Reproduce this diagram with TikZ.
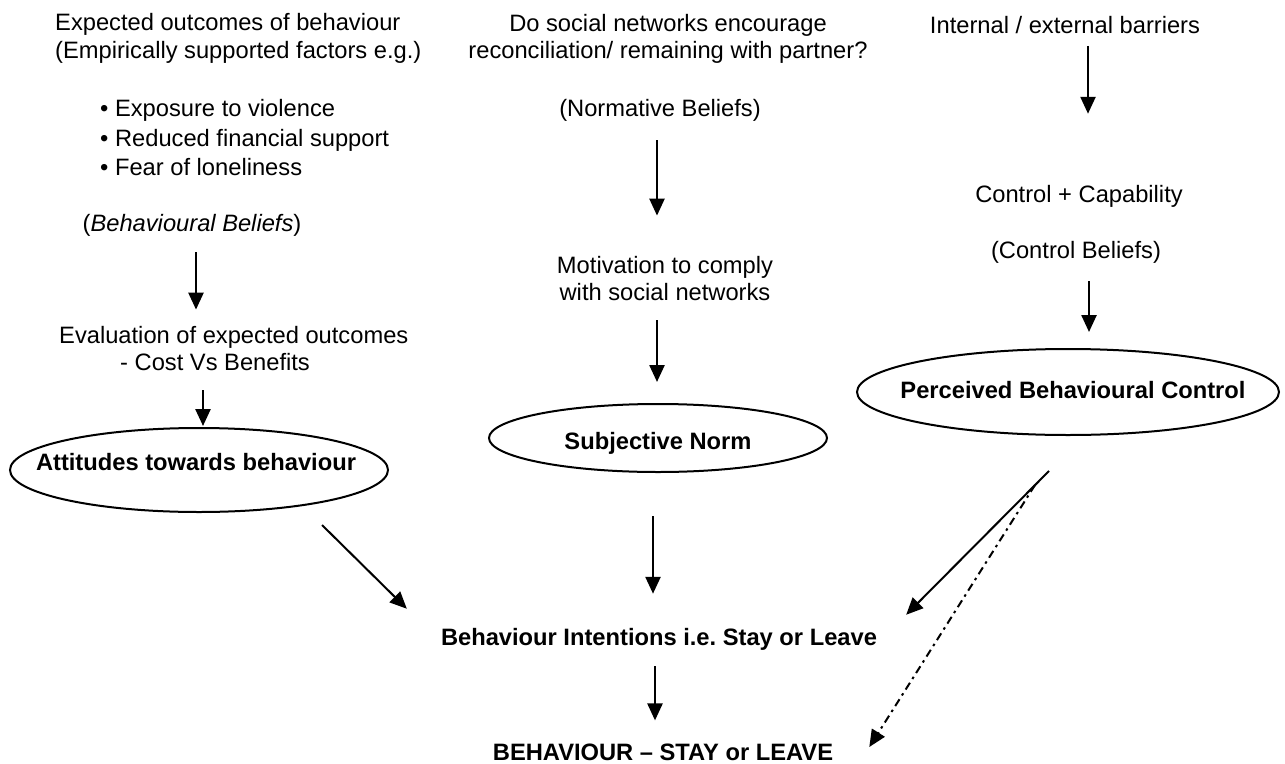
\documentclass[tikz,border=0pt]{standalone}
\usepackage{fontspec}
\setmainfont{Liberation Sans}
\usetikzlibrary{shapes.geometric,arrows.meta}
\frenchspacing

\begin{document}
\begin{tikzpicture}[
		x=1pt, y=-1pt,
		textos/.style={
			inner sep=0pt,
			align=center,
			font=\fontsize{23.7}{28}\selectfont
		},
		negrito/.style={
			textos,
			font=\fontsize{23.7}{28}\selectfont\bfseries
		},
		elipses/.style={
			draw,
			ellipse,
			inner sep=0pt,
			line width=2pt
		},
		setas/.style={
			-{Triangle[length=17pt,width=15pt]},
			line width=2.5pt
		},
		setatraco/.style={
			setas,
			line width=2pt,
			dash pattern=on 8pt off 4.5pt on 2.5pt off 4.5pt
		}
		]
		\useasboundingbox (0,0) rectangle (1285,763);
		
		% coluna da esquerda
		\node[textos, anchor=west, align=left] (out) at (55,38) {Expected outcomes of behaviour\\ (Empirically supported factors e.g.)};
		\node[textos, anchor=west, align=left, font=\fontsize{23.7}{29.5}\selectfont] (fat) at (100,138) {\textbullet\ Exposure to violence\\ \textbullet\ Reduced financial support\\ \textbullet\ Fear of loneliness};
		\node[textos] (bb) at (192,225) {(\textit{Behavioural Beliefs})};
		\node[textos, anchor=west, align=left, font=\fontsize{23.7}{27}\selectfont] (eval) at (59,349) {Evaluation of expected outcomes\\ \hspace*{61pt}- Cost Vs Benefits};
		\node[elipses, minimum width=378pt, minimum height=84pt] (att) at (199,470) {};
		\node[negrito] (attt) at (196,462) {Attitudes towards behaviour};
		
		% coluna do meio
		\node[textos, font=\fontsize{23.7}{27}\selectfont] (soc) at (668,39) {Do social networks encourage\\ reconciliation/ remaining with partner?};
		\node[textos] (nb) at (660,110) {(Normative Beliefs)};
		\node[textos, font=\fontsize{23.7}{27}\selectfont] (mot) at (665,279) {Motivation to comply\\ with social networks};
		\node[elipses, minimum width=338pt, minimum height=68pt] (sn) at (658,438) {};
		\node[negrito] (snt) at (658,443) {Subjective Norm};
		\node[negrito] (bi) at (659,639) {Behaviour Intentions i.e. Stay or Leave};
		\node[negrito] (beh) at (663,752) {BEHAVIOUR -- STAY or LEAVE};
		
		% coluna da direita
		\node[textos] (ieb) at (1065,25) {Internal / external barriers};
		\node[textos] (cc) at (1079,196) {Control + Capability};
		\node[textos] (cb) at (1076,252) {(Control Beliefs)};
		\node[elipses, minimum width=422pt, minimum height=86pt] (pbc) at (1068,392) {};
		\node[negrito] (pbct) at (1073,390) {Perceived Behavioural Control};
		
		%Setas
		\draw[setas, shorten <=16pt, shorten >=17pt] ([xshift=4pt]bb.south) -- ([xshift=4pt]bb.south |- eval.north);
		\draw[setas, shorten <=19pt, shorten >=1pt] ([xshift=4pt]att.north |- eval.south) -- ([xshift=4pt]att.north);
		\draw[setas, line width=2pt] ([shift={(123,12)}]att.south) -- ([shift={(-34,-19)}]bi.north west);
		
		\draw[setas, shorten <=19pt, shorten >=41pt] ([xshift=-8pt]mot.north |- nb.south) -- ([xshift=-8pt]mot.north);
		\draw[setas, shorten <=19pt, shorten >=21pt] ([xshift=-1pt]sn.north |- mot.south) -- ([xshift=-1pt]sn.north);
		\draw[setas, shorten <=43pt, shorten >=34pt] ([xshift=-6pt]bi.north |- sn.south) -- ([xshift=-6pt]bi.north);
		\draw[setas, shorten <=16pt, shorten >=23pt] ([xshift=-8pt]beh.north |- bi.south) -- ([xshift=-8pt]beh.north);
		
		\draw[setas, shorten <=12pt, shorten >=71pt] ([xshift=9pt]cc.north |- ieb.south) -- ([xshift=9pt]cc.north);
		\draw[setas, shorten <=18pt, shorten >=16pt] ([xshift=21pt]pbc.north |- cb.south) -- ([xshift=21pt]pbc.north);
		\draw[setas, line width=2pt] ([shift={(-19,35)}]pbc.south) -- ([shift={(29,-13)}]bi.north east);
		\draw[setatraco] ([shift={(-33,49)}]pbc.south) -- ([shift={(36,-5)}]beh.east);
		
	\end{tikzpicture}
\end{document}
